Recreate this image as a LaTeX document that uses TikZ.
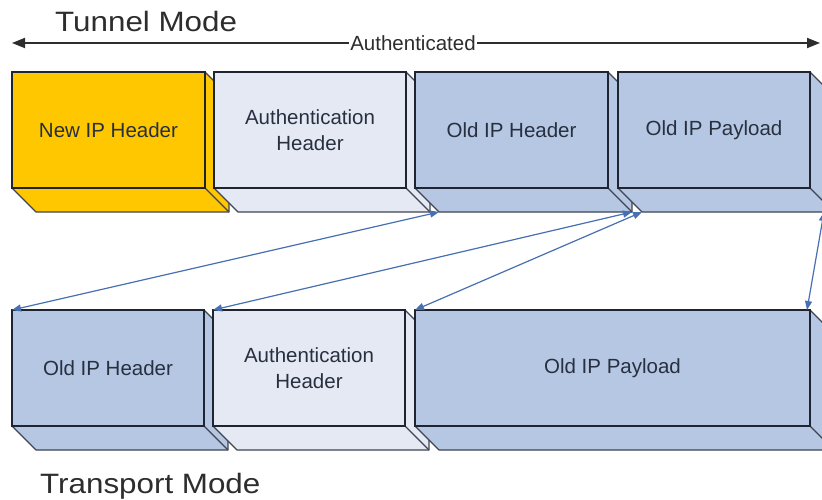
\documentclass[tikz,border=0pt]{standalone}
\usepackage{fontspec}
\setmainfont{Liberation Sans}
\newfontfamily\titlefont[FakeStretch=1.12]{Liberation Sans}
\usetikzlibrary{arrows.meta,calc,backgrounds}

\definecolor{hdrYellow}{RGB}{255,199,0}
\definecolor{hdrLight}{RGB}{229,233,244}
\definecolor{hdrBlue}{RGB}{181,199,227}
\definecolor{edgeDark}{RGB}{30,36,50}
\definecolor{txtDark}{RGB}{40,48,64}
\definecolor{linkBlue}{RGB}{70,112,178}
\definecolor{titleGray}{RGB}{45,45,45}

% extrusion depth of the packet slabs
\newcommand{\pktd}{24}

% side and bottom faces of a slab, drawn behind its front face
\newcommand{\pktslab}[2]{%
  \begin{pgfonlayer}{background}
    \filldraw[fill=#2, draw=edgeDark!85, line width=1.1pt, line join=round]
      (#1.north east) -- ++(\pktd,\pktd)
      -- ($(#1.south east)+(\pktd,\pktd)$)
      -- ($(#1.south west)+(\pktd,\pktd)$)
      -- (#1.south west) -- (#1.south east) -- cycle;
    \draw[draw=edgeDark!85, line width=1.1pt]
      (#1.south east) -- ++(\pktd,\pktd);
  \end{pgfonlayer}}

\tikzset{
  pkt/.style={draw=edgeDark, line width=1.6pt, anchor=north west,
    minimum height=116pt, outer sep=0pt, inner sep=2pt,
    text=txtDark, align=center,
    font=\fontsize{20.5}{26}\selectfont},
  link/.style={draw=linkBlue, line width=1.2pt,
    {Triangle[length=9pt,width=7pt]}-{Triangle[length=9pt,width=7pt]}},
  span/.style={draw=titleGray, line width=1.8pt,
    {Triangle[length=13pt,width=10pt]}-{Triangle[length=13pt,width=10pt]}},
  modetitle/.style={anchor=base west, inner sep=0pt, text=titleGray,
    font=\titlefont\fontsize{28}{30}\selectfont}
}

\begin{document}
\begin{tikzpicture}[x=1pt,y=-1pt]
  \useasboundingbox (0,0) rectangle (822,500);
  \begin{pgfonlayer}{background}
    \fill[white] (0,0) rectangle (822,500);
  \end{pgfonlayer}
  \clip (0,0) rectangle (822,500);

  % titles
  \node[modetitle] (tunnelT) at (55,32) {Tunnel Mode};
  \node[modetitle] (transT) at (40,493) {Transport Mode};

  % authenticated span
  \coordinate (spanL) at (12,43);
  \coordinate (spanR) at (820,43);
  \draw[span] (spanL) -- (spanR)
    node[midway, xshift=-3pt, fill=white, inner xsep=1pt, inner ysep=0pt,
         text=titleGray, font=\fontsize{20.5}{22}\selectfont] (authLbl) {Authenticated};

  % tunnel mode packet
  \node[pkt, fill=hdrYellow, minimum width=193pt] (tnew) at (12,72) {New IP Header};
  \pktslab{tnew}{hdrYellow}
  \node[pkt, fill=hdrLight, minimum width=192pt] (tauth) at (214,72) {Authentication\\Header};
  \pktslab{tauth}{hdrLight}
  \node[pkt, fill=hdrBlue, minimum width=193pt] (told) at (415,72) {Old IP Header};
  \pktslab{told}{hdrBlue}
  \node[pkt, fill=hdrBlue, minimum width=192pt] (tpay) at (618,72) {Old IP Payload};
  \pktslab{tpay}{hdrBlue}

  % transport mode packet
  \node[pkt, fill=hdrBlue, minimum width=192pt] (bold) at (12,310) {Old IP Header};
  \pktslab{bold}{hdrBlue}
  \node[pkt, fill=hdrLight, minimum width=192pt] (bauth) at (213,310) {Authentication\\Header};
  \pktslab{bauth}{hdrLight}
  \node[pkt, fill=hdrBlue, minimum width=395pt] (bpay) at (415,310) {Old IP Payload};
  \pktslab{bpay}{hdrBlue}

  % foot points on the tunnel mode slabs
  \coordinate (toldL) at ($(told.south west)+(\pktd,\pktd)$);
  \coordinate (toldR) at ($(told.south east)+(\pktd,\pktd)$);
  \coordinate (tpayL) at ($(tpay.south west)+(\pktd,\pktd)$);
  \coordinate (tpayR) at ($(tpay.south east)+(14,\pktd)$);

  % field correspondences
  \draw[link] (toldL) -- (bold.north west);
  \draw[link] (toldR) -- (bauth.north west);
  \draw[link] (tpayL) -- (bpay.north west);
  \draw[link] (tpayR) -- ($(bpay.north east)+(-3,0)$);
\end{tikzpicture}
\end{document}
